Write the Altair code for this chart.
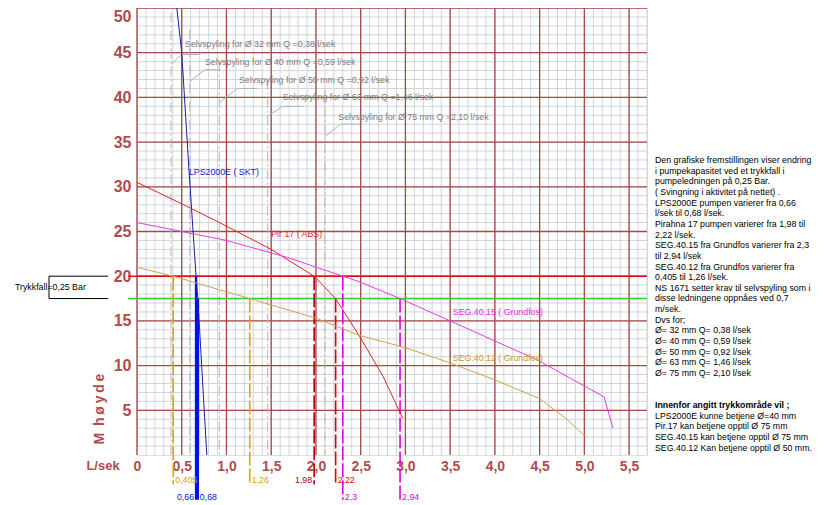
import altair as alt
import pandas as pd

# ---------------- data ----------------
# Pump curves: flow Q (l/sek) vs head (M høyde)
lps_q = [0.445, 0.50, 0.58, 0.66, 0.68, 0.78]
lps_h = [50.0, 45.0, 32.0, 20.0, 17.5, 0.0]

pir_q = [0.0, 0.5, 1.0, 1.5, 1.98, 2.22, 2.48, 2.75, 2.97]
pir_h = [30.5, 28.1, 25.6, 23.0, 20.0, 17.5, 13.4, 8.8, 4.1]

s15_q = [0.0, 1.0, 1.68, 2.3, 2.48, 2.94, 3.5, 4.48, 5.22, 5.32]
s15_h = [26.0, 24.0, 22.1, 20.0, 19.4, 17.5, 15.0, 10.6, 6.5, 3.0]

s12_q = [0.0, 0.405, 1.26, 2.0, 2.48, 3.0, 3.5, 4.0, 4.5, 4.78, 5.02]
s12_h = [21.0, 20.0, 17.5, 15.3, 13.4, 12.0, 10.3, 8.4, 6.3, 4.2, 2.0]

curve_names = ["LPS2000E", "Pir 17", "SEG.40.15", "SEG.40.12"]
curve_colors = ["#1c1ca8", "#e8221e", "#e43ce4", "#d2a04a"]
curve_widths = [1.0, 1.0, 1.2, 1.2]

curve_label_text = ["LPS2000E (  SKT)", "Pir 17 (  ABS)", "SEG.40.15 (  Grundfos)", "SEG.40.12 (  Grundfos)"]
curve_label_q = [0.58, 1.50, 3.53, 3.53]
curve_label_h = [31.6, 24.7, 16.0, 10.9]
curve_label_colors = ["#2020c8", "#e01c1c", "#e030e0", "#d09a30"]

# pressure band
band_h = [20.0, 17.5]
band_colors = ["#e01010", "#33cc33"]

# drop lines (operating points) and their labels
drop_q = [0.405, 1.26, 0.66, 0.68, 1.98, 2.22, 2.3, 2.94]
drop_h = [20.0, 17.5, 20.0, 17.5, 20.0, 17.5, 20.0, 17.5]
drop_lbl = ["0,405", "1,26", "0,66", "0,68", "1,98", "2,22", "2,3", "2,94"]
drop_color = ["#e0a400", "#e0a400", "#0010ee", "#0010ee", "#b00000", "#e00000", "#e000e0", "#e000e0"]
drop_row = [1, 1, 2, 2, 1, 1, 2, 2]
drop_align = ["left", "left", "right", "left", "right", "left", "left", "left"]
drop_solid = [False, False, True, True, False, False, False, False]

# self-cleaning flows (selvspyling)
ss_q = [0.38, 0.59, 0.92, 1.46, 2.10]
ss_text = [
    "Selvspyling  for Ø 32 mm Q =0,38 l/sek",
    "Selvspyling  for Ø 40 mm Q =0,59 l/sek",
    "Selvspyling  for Ø 50 mm Q =0,92 l/sek",
    "Selvspyling  for Ø 63 mm Q =1,46 l/sek",
    "Selvspyling  for Ø 75 mm Q =2,10 l/sek",
]
ss_top = [49.5, 47.6, 44.0, 42.0, 40.9]
ss_joint = [43.7, 41.8, 39.4, 37.9, 35.6]
ss_elbow_q = [0.50, 0.76, 1.12, 1.63, 2.27]
ss_elbow_h = [44.8, 43.1, 41.0, 39.0, 37.0]
ss_end_q = [0.70, 0.93, 1.35, 1.86, 2.49]
ss_text_q = [0.537, 0.76, 1.14, 1.63, 2.25]
ss_text_h = [46.0, 44.0, 41.9, 40.1, 37.8]

notes_a = [
    "Den grafiske fremstillingen viser endring",
    "i pumpekapasitet ved et trykkfall i",
    "pumpeledningen på 0,25 Bar.",
    "(  Svingning i aktivitet på nettet)  .",
    "LPS2000E pumpen varierer fra 0,66",
    "l/sek til 0,68 l/sek.",
    "Pirahna 17 pumpen varierer fra 1,98 til",
    "2,22 l/sek.",
    "SEG.40.15 fra Grundfos varierer fra 2,3",
    "til 2,94 l/sek",
    "SEG.40.12 fra Grundfos varierer fra",
    "0,405 til 1,26 l/sek.",
    "",
    "NS 1671 setter krav til selvspyling som i",
    "disse ledningene oppnåes ved 0,7",
    "m/sek.",
    "Dvs for;",
    "Ø= 32 mm Q= 0,38 l/sek",
    "Ø= 40 mm Q= 0,59 l/sek",
    "Ø= 50 mm Q= 0,92 l/sek",
    "Ø= 63 mm Q= 1,46 l/sek",
    "Ø= 75 mm Q= 2,10 l/sek",
]
notes_bold = "Innenfor angitt  trykkområde vil ;"
notes_c = [
    "LPS2000E kunne betjene Ø=40 mm",
    "Pir.17 kan betjene opptil Ø 75 mm",
    "SEG.40.15 kan betjene opptil Ø 75 mm",
    "SEG.40.12 Kan betjene opptil Ø 50 mm.",
]

# grid / tick positions
x_minor = [round(i * 0.1, 1) for i in range(58)]
x_major = [0.0, 0.5, 1.0, 1.5, 2.0, 2.5, 3.0, 3.5, 4.0, 4.5, 5.0, 5.5]
y_minor = list(range(1, 51))
y_major = [5, 10, 15, 20, 25, 30, 35, 40, 45, 50]

# ---------------- styling ----------------
FONT = "Arial"
AX = "#b04c4c"
MAJOR = "#a84848"
MINOR = "#cfd4de"
W, H = 510, 447
LH = 10.65

xscale = alt.Scale(domain=[0, 5.7], nice=False, zero=False)
yscale = alt.Scale(domain=[0, 50], nice=False)

x_axis = alt.Axis(
    values=x_major, title=None, domain=False, ticks=False, grid=False,
    labelExpr="datum.value == 0 ? '0' : replace(format(datum.value, '.1f'), '.', ',')",
    labelOverlap=False, labelFont=FONT, labelFontSize=14, labelFontWeight="bold",
    labelColor=AX, labelPadding=4, labelFlush=False,
)
y_axis = alt.Axis(
    values=y_major, title=None, domain=False, ticks=False, grid=False,
    labelOverlap=False, labelFont=FONT, labelFontSize=16, labelFontWeight="bold",
    labelColor=AX, labelPadding=6, labelFlush=True,
)

X = lambda f: alt.X(f, type="quantitative", scale=xscale)
Y = lambda f: alt.Y(f, type="quantitative", scale=yscale)

# ---------------- data frames ----------------
curve_rows = []
for name, qs, hs in zip(curve_names, [lps_q, pir_q, s15_q, s12_q], [lps_h, pir_h, s15_h, s12_h]):
    for i, (q, h) in enumerate(zip(qs, hs)):
        curve_rows.append({"name": name, "q": q, "h": h, "i": i})
curves_df = pd.DataFrame(curve_rows)

drop_df = pd.DataFrame({
    "q": drop_q, "h": drop_h, "lbl": drop_lbl, "color": drop_color,
    "row": drop_row, "align": drop_align, "solid": drop_solid,
})
drop_df["end"] = drop_df["row"].map({1: -3.3, 2: -5.0})
drop_df["ly"] = drop_df["row"].map({1: -2.75, 2: -4.65})

ss_df = pd.DataFrame({
    "q": ss_q, "text": ss_text, "top": ss_top, "joint": ss_joint,
    "eq": ss_elbow_q, "eh": ss_elbow_h, "endq": ss_end_q,
    "tq": ss_text_q, "th": ss_text_h,
})
ss_df["zero"] = 0.0

band_df = pd.DataFrame({"h": band_h, "color": band_colors})
lab_df = pd.DataFrame({"q": curve_label_q, "h": curve_label_h, "t": curve_label_text, "c": curve_label_colors})

# ---------------- layers ----------------
base_axes = alt.Chart(pd.DataFrame({"q": [0.0], "h": [0.0]})).mark_point(opacity=0).encode(
    x=alt.X("q:Q", scale=xscale, axis=x_axis),
    y=alt.Y("h:Q", scale=yscale, axis=y_axis),
)

gx_minor = alt.Chart(pd.DataFrame({"v": x_minor})).mark_rule(color=MINOR, strokeWidth=1).encode(x=X("v"))
gy_minor = alt.Chart(pd.DataFrame({"v": y_minor})).mark_rule(color=MINOR, strokeWidth=1).encode(y=Y("v"))
gx_major = alt.Chart(pd.DataFrame({"v": x_major})).mark_rule(color=MAJOR, strokeWidth=1.3).encode(x=X("v"))
gy_major = alt.Chart(pd.DataFrame({"v": y_major})).mark_rule(color=MAJOR, strokeWidth=1.3).encode(y=Y("v"))

ss_vert = alt.Chart(ss_df).mark_rule(color="#b4b4b4", strokeWidth=1, strokeDash=[10, 3, 2, 3]).encode(
    x=X("q"), y=Y("top"), y2="zero")
ss_diag = alt.Chart(ss_df).mark_rule(color="#b4b4b4", strokeWidth=1).encode(
    x=X("q"), y=Y("joint"), x2="eq", y2="eh")
ss_hor = alt.Chart(ss_df).mark_rule(color="#b4b4b4", strokeWidth=1).encode(
    x=X("eq"), y=Y("eh"), x2="endq")
ss_txt = alt.Chart(ss_df).mark_text(align="left", baseline="middle", font=FONT, fontSize=8.8, color="#7c7c7c").encode(
    x=X("tq"), y=Y("th"), text="text:N")

bands = alt.Chart(band_df).mark_rule(strokeWidth=1.4).encode(
    y=Y("h"), x=alt.value(-9), x2=alt.value(W),
    color=alt.Color("color:N", scale=None))

curves = alt.Chart(curves_df).mark_line().encode(
    x=X("q"), y=Y("h"), order="i:Q",
    color=alt.Color("name:N", scale=alt.Scale(domain=curve_names, range=curve_colors), legend=None),
    strokeWidth=alt.StrokeWidth("name:N", scale=alt.Scale(domain=curve_names, range=curve_widths), legend=None),
)

drop_dash = alt.Chart(drop_df).transform_filter("!datum.solid").mark_rule(strokeWidth=1.6, strokeDash=[14, 3]).encode(
    x=X("q"), y=Y("h"), y2="end", color=alt.Color("color:N", scale=None))
drop_sol = alt.Chart(drop_df).transform_filter("datum.solid").mark_rule(strokeWidth=2.4).encode(
    x=X("q"), y=Y("h"), y2="end", color=alt.Color("color:N", scale=None))

drop_lab_l = alt.Chart(drop_df).transform_filter("datum.align == 'left'").mark_text(
    align="left", baseline="middle", dx=2, font=FONT, fontSize=8.8).encode(
    x=X("q"), y=Y("ly"), text="lbl:N", color=alt.Color("color:N", scale=None))
drop_lab_r = alt.Chart(drop_df).transform_filter("datum.align == 'right'").mark_text(
    align="right", baseline="middle", dx=-2, font=FONT, fontSize=8.8).encode(
    x=X("q"), y=Y("ly"), text="lbl:N", color=alt.Color("color:N", scale=None))

curve_labels = alt.Chart(lab_df).mark_text(align="left", baseline="middle", font=FONT, fontSize=8.8).encode(
    x=X("q"), y=Y("h"), text="t:N", color=alt.Color("c:N", scale=None))

# bracket for Trykkfall
br_df = pd.DataFrame({"h": band_h})
br_h = alt.Chart(br_df).mark_rule(color="black", strokeWidth=1).encode(
    y=Y("h"), x=alt.value(-88), x2=alt.value(-29))
br_v = alt.Chart(pd.DataFrame({"a": [band_h[0]], "b": [band_h[1]]})).mark_rule(color="black", strokeWidth=1).encode(
    y=Y("a"), y2="b", x=alt.value(-88))
br_t = alt.Chart(pd.DataFrame({"h": [(band_h[0] + band_h[1]) / 2], "t": ["Trykkfall=0,25 Bar"]})).mark_text(
    align="left", baseline="middle", font=FONT, fontSize=8.8, color="black").encode(
    y=Y("h"), x=alt.value(-122), text="t:N")

# axis titles
lsek = alt.Chart(pd.DataFrame({"t": ["L/sek"]})).mark_text(
    align="center", baseline="middle", font=FONT, fontSize=13, fontWeight="bold", color=AX).encode(
    x=alt.value(-34), y=alt.value(458), text="t:N")
mhoyde = alt.Chart(pd.DataFrame({"t": ["M\u2009 h\u2009ø\u2009y\u2009d\u2009e"]})).mark_text(
    align="center", baseline="middle", angle=270, font=FONT, fontSize=14, fontWeight="bold", color=AX).encode(
    x=alt.value(-37), y=alt.value(401), text="t:N")

# notes on the right
NX = 518
Y0 = 148
notes1 = alt.Chart(pd.DataFrame({"t": ["\n".join(notes_a)]})).mark_text(
    align="left", baseline="top", font=FONT, fontSize=8.8, color="black", lineBreak="\n", lineHeight=LH).encode(
    x=alt.value(NX), y=alt.value(Y0), text="t:N")
notes2 = alt.Chart(pd.DataFrame({"t": [notes_bold]})).mark_text(
    align="left", baseline="top", font=FONT, fontSize=8.8, fontWeight="bold", color="black").encode(
    x=alt.value(NX), y=alt.value(Y0 + 23 * LH), text="t:N")
notes3 = alt.Chart(pd.DataFrame({"t": ["\n".join(notes_c)]})).mark_text(
    align="left", baseline="top", font=FONT, fontSize=8.8, color="black", lineBreak="\n", lineHeight=LH).encode(
    x=alt.value(NX), y=alt.value(Y0 + 24 * LH), text="t:N")

chart = alt.layer(
    base_axes, gx_minor, gy_minor, gx_major, gy_major,
    ss_vert, ss_diag, ss_hor, ss_txt, bands, drop_dash, drop_sol, curves,
    curve_labels, drop_lab_l, drop_lab_r, br_h, br_v, br_t, lsek, mhoyde, notes1, notes2, notes3,
).properties(
    width=W, height=H,
    autosize=alt.AutoSizeParams(type="none"),
    padding={"left": 129, "top": 0, "right": 171, "bottom": 47},
).configure_view(strokeWidth=0).configure(background="white")

chart.save("out.html", embed_options={"renderer": "svg", "actions": False})
